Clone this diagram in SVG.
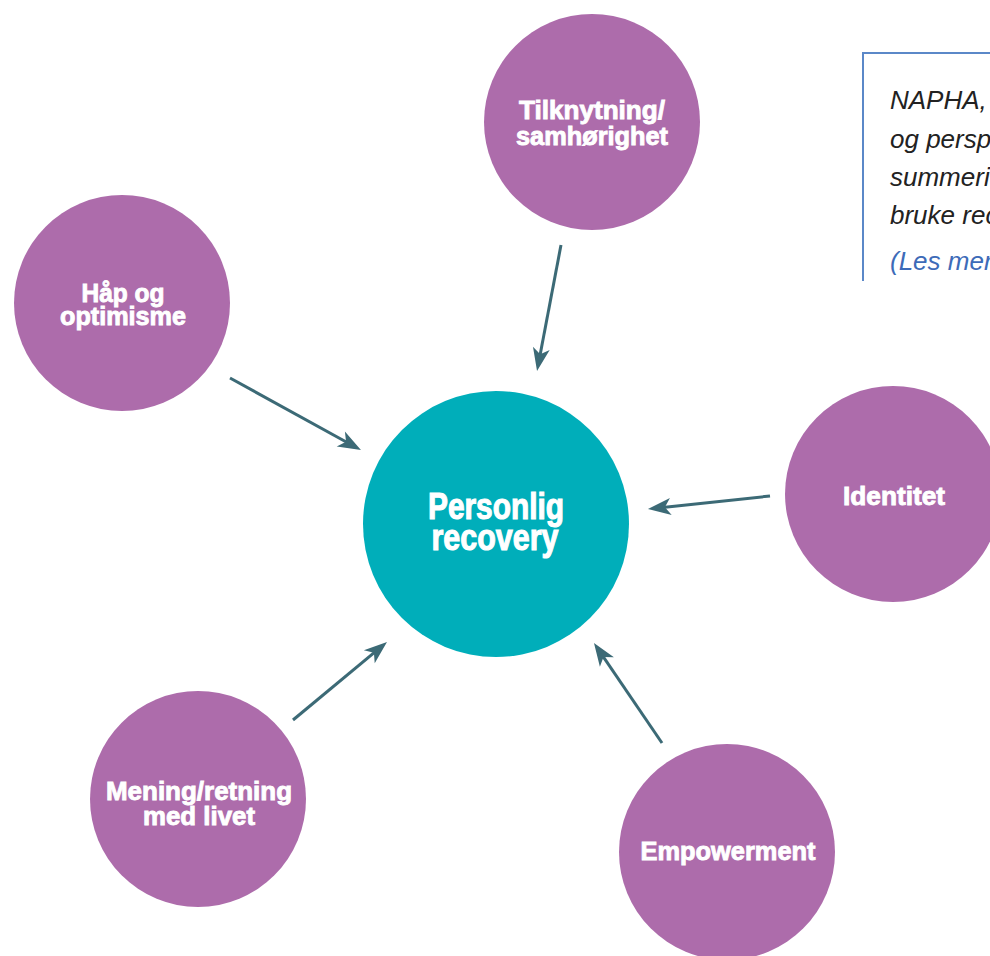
<svg xmlns="http://www.w3.org/2000/svg" width="990" height="956" viewBox="0 0 990 956">
  <style>
    .node { fill: #ad6cab; }
    .hub { fill: #00aeba; }
    .lbl { font-family: "Liberation Sans", Arial, sans-serif; font-weight: bold; fill: #ffffff; stroke: #ffffff; stroke-width: 0.9; font-size: 26px; text-anchor: middle; }
    .hubl { font-size: 36px; stroke-width: 1.1; }
    .link { stroke: #3c6a76; stroke-width: 3; fill: none; marker-end: url(#head); }
    .note { font-family: "Liberation Sans", Arial, sans-serif; font-style: italic; font-size: 26px; fill: #222222; }
    .more { fill: #3d6bb8; }
  </style>
  <defs>
    <marker id="head" markerUnits="userSpaceOnUse" markerWidth="30" markerHeight="30" viewBox="-15 -15 30 30" refX="0" refY="0" orient="auto" overflow="visible">
      <path d="M10,0 L-13,-8.5 L-7,0 L-13,8.5 Z" fill="#3c6a76"/>
    </marker>
  </defs>
  <rect width="990" height="956" fill="#ffffff"/>

  <!-- source note box, running off the right edge -->
  <g id="note">
    <path d="M990,53 H863 V281" fill="none" stroke="#5b88c8" stroke-width="2"/>
    <text class="note" x="890" y="109">NAPHA,</text>
    <text class="note" x="890" y="148">og persp</text>
    <text class="note" x="890" y="186">summeri</text>
    <text class="note" x="890" y="224">bruke rec</text>
    <text class="note more" x="890" y="270">(Les mer</text>
  </g>

  <!-- connectors from each theme toward the centre -->
  <g id="connectors">
    <line class="link" x1="561" y1="245" x2="538.9" y2="361.2"/>
    <line class="link" x1="230" y1="378" x2="352.2" y2="445.2"/>
    <line class="link" x1="770" y1="496" x2="657.9" y2="507.9"/>
    <line class="link" x1="293" y1="720" x2="379.3" y2="648.4"/>
    <line class="link" x1="662" y1="743" x2="599.6" y2="651.3"/>
  </g>

  <g id="hub">
    <circle class="hub" cx="496" cy="524" r="133"/>
    <text class="lbl hubl" x="496" y="519" textLength="136" lengthAdjust="spacingAndGlyphs">Personlig</text>
    <text class="lbl hubl" x="495" y="550" textLength="127" lengthAdjust="spacingAndGlyphs">recovery</text>
  </g>

  <g id="tilknytning">
    <circle class="node" cx="592" cy="122" r="108"/>
    <text class="lbl" x="592" y="119" textLength="146" lengthAdjust="spacingAndGlyphs">Tilknytning/</text>
    <text class="lbl" x="592" y="145" textLength="152" lengthAdjust="spacingAndGlyphs">samhørighet</text>
  </g>

  <g id="haap">
    <circle class="node" cx="122" cy="303" r="108"/>
    <text class="lbl" x="123" y="302" textLength="83" lengthAdjust="spacingAndGlyphs">Håp og</text>
    <text class="lbl" x="123" y="325" textLength="126" lengthAdjust="spacingAndGlyphs">optimisme</text>
  </g>

  <g id="identitet">
    <circle class="node" cx="893" cy="494" r="108"/>
    <text class="lbl" x="894" y="505" textLength="102" lengthAdjust="spacingAndGlyphs">Identitet</text>
  </g>

  <g id="mening">
    <circle class="node" cx="198" cy="799" r="108"/>
    <text class="lbl" x="199" y="800" textLength="186" lengthAdjust="spacingAndGlyphs">Mening/retning</text>
    <text class="lbl" x="199" y="825" textLength="112" lengthAdjust="spacingAndGlyphs">med livet</text>
  </g>

  <g id="empowerment">
    <circle class="node" cx="727" cy="852" r="108"/>
    <text class="lbl" x="728" y="860" textLength="175" lengthAdjust="spacingAndGlyphs">Empowerment</text>
  </g>
</svg>
